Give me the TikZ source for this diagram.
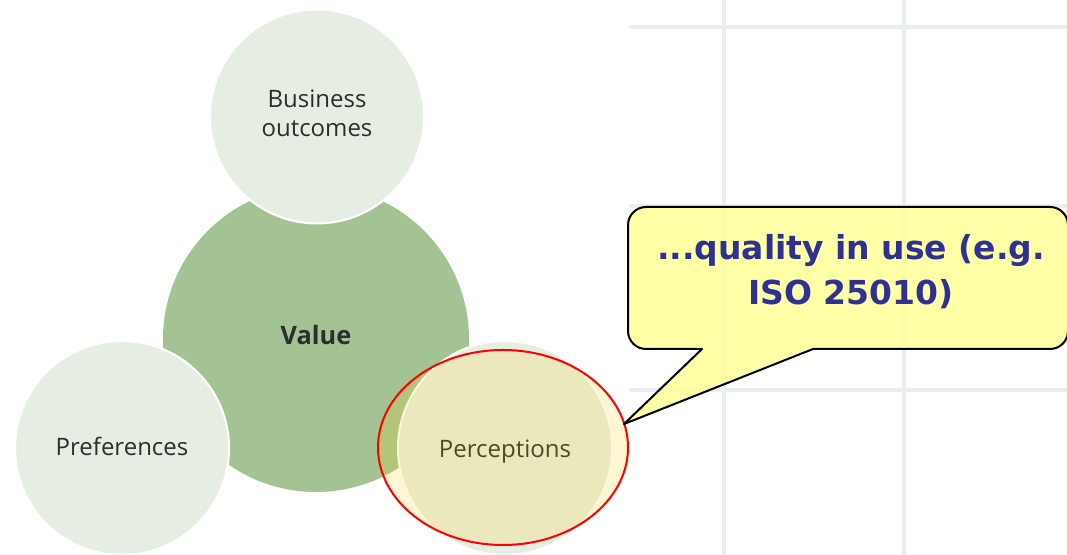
\documentclass[tikz,border=0pt]{standalone}
\usepackage{fontspec}
\setmainfont{Open Sans}
\newfontfamily\callfont{DejaVu Sans}
\usetikzlibrary{shapes.geometric}
\definecolor{gridc}{RGB}{232,238,241}
\definecolor{valc}{RGB}{164,195,148}
\definecolor{lightc}{RGB}{230,238,227}
\definecolor{labc}{RGB}{45,45,45}
\definecolor{navyc}{RGB}{46,49,146}
\definecolor{callc}{RGB}{255,255,153}
\definecolor{ellc}{RGB}{255,204,0}
\tikzset{
  gridline/.style={draw=gridc, line width=3pt},
  bigcircle/.style={circle, inner sep=0pt, minimum size=229.5pt, fill=valc},
  smallcircle/.style={circle, inner sep=0pt, minimum size=160.5pt, fill=lightc, draw=white, line width=1.5pt},
  lab/.style={text=labc, inner sep=0pt, font=\fontsize{18}{21.75}\selectfont},
  highlight/.style={ellipse, inner sep=0pt, minimum width=187.5pt, minimum height=146.25pt, draw=red, line width=1.5pt, fill=ellc, fill opacity=0.17},
  callout/.style={draw=black, line width=1.5pt, fill=callc, fill opacity=0.85, line join=round},
  calltext/.style={text=navyc, inner sep=0pt, font=\callfont\bfseries\fontsize{24.75}{33.75}\selectfont}
}
\begin{document}
\begin{tikzpicture}[x=0.75pt,y=0.75pt]
\useasboundingbox (0,0) rectangle (1067,555);
\fill[white] (0,0) rectangle (1067,555);
% background grid
\draw[gridline] (724,0) -- (724,555);
\draw[gridline] (904,0) -- (904,555);
\draw[gridline] (629,528) -- (1067,528);
\draw[gridline] (629,349) -- (1067,349);
\draw[gridline] (629,165) -- (1067,165);
% circles
\node[bigcircle] (value) at (316,216) {};
\node[smallcircle] (business) at (317,438.5) {};
\node[smallcircle] (preferences) at (122,107) {};
\node[smallcircle] (perceptions) at (505,107) {};
% labels
\node[lab, align=center] (lbusiness) at (317,442) {Business\\outcomes};
\node[lab, anchor=base, font=\bfseries\fontsize{19}{22}\selectfont] (lvalue) at (316,210) {Value};
\node[lab, anchor=base] (lpreferences) at (122,99) {Preferences};
\node[lab, anchor=base] (lperceptions) at (505,97) {Perceptions};
% highlight ellipse
\node[highlight] (hl) at (503,107.5) {};
% callout
\draw[callout] (702,206) -- (646,206) arc[start angle=270, end angle=180, radius=18]
  -- (628,330) arc[start angle=180, end angle=90, radius=18]
  -- (1050,348) arc[start angle=90, end angle=0, radius=18]
  -- (1068,224) arc[start angle=0, end angle=-90, radius=18]
  -- (813,206) -- (624,131) -- cycle;
\node[calltext, anchor=base] (ct1) at (851,295) {...quality in use (e.g.};
\node[calltext, anchor=base] (ct2) at (851,250) {ISO 25010)};
\end{tikzpicture}
\end{document}
